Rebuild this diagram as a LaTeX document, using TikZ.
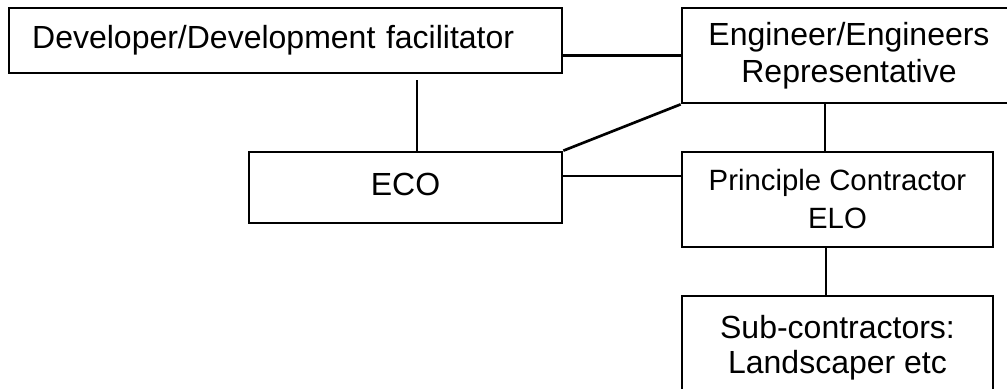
\documentclass[tikz,border=0pt]{standalone}
\usepackage{fontspec}
\setmainfont{Liberation Sans}
\begin{document}
\begin{tikzpicture}[x=0.75pt,y=-0.75pt,
  box/.style={draw=black,line width=2pt,rectangle,inner sep=0pt,align=center,
    font=\fontsize{24pt}{28pt}\selectfont},
  link/.style={draw=black,line width=2pt}]
\useasboundingbox (0,0) rectangle (1007,389);
\node[box,minimum width=414.75pt,minimum height=48.75pt,text width=380pt,align=left,
  text height=18pt,text depth=6pt] (dev) at (285.5,40.5) {Developer/Development facilitator};
\node[box,minimum width=250.5pt,minimum height=71.25pt] (eng) at (849,55.5) {Engineer/Engineers\\Representative};
\node[box,minimum width=234.75pt,minimum height=53.25pt,text height=18pt,text depth=6pt] (eco) at (405.5,187.5) {ECO};
\node[box,minimum width=233.25pt,minimum height=71.25pt,font=\fontsize{22pt}{28.5pt}\selectfont] (pc) at (837.5,199.5) {Principle Contractor\\ELO};
\node[box,minimum width=233.25pt,minimum height=78pt,font=\fontsize{24pt}{26.5pt}\selectfont] (sub) at (837.5,348) {Sub-contractors:\\Landscaper etc};
\draw[link] (dev.east |- eng.west) -- (eng.west);
\draw[link] ([xshift=8.625pt]eco.north) -- ([xshift=8.625pt,yshift=-4.5pt]eco.north |- dev.south);
\draw[link] (eco.north east) -- (eng.south west);
\draw[link] ([yshift=8.625pt]eco.east) -- ([yshift=8.625pt]eco.east -| pc.west);
\draw[link] ([xshift=-9.375pt]pc.north) -- ([xshift=-9.375pt]pc.north |- eng.south);
\draw[link] ([xshift=-8.625pt]sub.north) -- ([xshift=-8.625pt]sub.north |- pc.south);
\end{tikzpicture}
\end{document}
